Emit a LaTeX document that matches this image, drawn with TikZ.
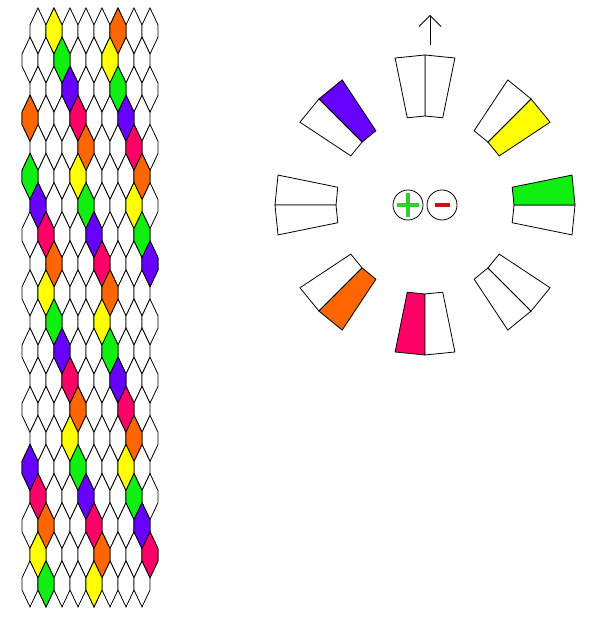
\documentclass[tikz,border=0pt]{standalone}
\usetikzlibrary{arrows.meta}

\definecolor{kyellow}{HTML}{FFFF00}
\definecolor{kgreen}{HTML}{11EE11}
\definecolor{kpurple}{HTML}{6600FF}
\definecolor{kpink}{HTML}{FF0066}
\definecolor{korange}{HTML}{FF6600}
\definecolor{plusgreen}{HTML}{33CC33}
\definecolor{minusred}{HTML}{CC1111}

% one knot of the pattern: row, column, colour
\newcommand{\knotcell}[3]{%
  \pgfmathsetmacro{\kx}{38+16*#2-8*mod(#1,2)}%
  \pgfmathsetmacro{\ky}{589-29.1*#1}%
  \filldraw[fill=#3] (\kx,\ky+23) -- (\kx+8,\ky+6.1) -- (\kx+8,\ky-6.1) -- (\kx,\ky-23)
    -- (\kx-8,\ky-6.1) -- (\kx-8,\ky+6.1) -- cycle;}

% one half of a slot on the wheel: from angle, to angle, colour
\newcommand{\slothalf}[3]{%
  \filldraw[fill=#3] (#1:89) -- (#1:150) -- (#2:150) -- (#2:89) -- cycle;}

\begin{document}
\begin{tikzpicture}[x=1pt,y=1pt,line width=0.8pt]
      \useasboundingbox[fill=white] (0,0) rectangle (595,620);
      % \draw[very thin, gray, step=10] (0,0) grid (595,620);
      \foreach \r in {0,...,19}
        \foreach \c in {0,...,7}
          \knotcell{\r}{\c}{white};
      \foreach \r/\c/\col in {0/1/kyellow, 0/5/korange, 1/2/kgreen, 1/5/kyellow,
          2/2/kpurple, 2/5/kgreen, 3/0/korange, 3/3/kpink, 3/6/kpurple,
          4/3/korange, 4/6/kpink, 5/0/kgreen, 5/3/kyellow, 5/7/korange,
          6/0/kpurple, 6/3/kgreen, 6/6/kyellow, 7/1/kpink, 7/4/kpurple, 7/7/kgreen,
          8/1/korange, 8/4/kpink, 8/7/kpurple, 9/1/kyellow, 9/5/korange,
          10/1/kgreen, 10/4/kyellow, 11/2/kpurple, 11/5/kgreen,
          12/2/kpink, 12/5/kpurple, 13/3/korange, 13/6/kpink,
          14/2/kyellow, 14/6/korange, 15/0/kpurple, 15/3/kgreen, 15/6/kyellow,
          16/0/kpink, 16/3/kpurple, 16/6/kgreen, 17/1/korange, 17/4/kpink, 17/7/kpurple,
          18/0/kyellow, 18/4/korange, 18/7/kpink, 19/1/kgreen, 19/4/kyellow}
        \knotcell{\r}{\c}{\col};

      \begin{scope}[shift={(425,415)}]
        \foreach \s/\ca/\cb in {90/white/white, 45/kyellow/white, 0/white/kgreen,
            -45/white/white, -90/kpink/white, -135/white/korange,
            180/white/white, 135/kpurple/white} {
          \slothalf{\s-11.5}{\s}{\ca}
          \slothalf{\s}{\s+11.5}{\cb}
        }
      \end{scope}

      \node[circle, draw, minimum size=30pt, inner sep=0pt] (plus) at (408,415) {};
      \node[circle, draw, minimum size=30pt, inner sep=0pt] (minus) at (442,415) {};
      \draw[plusgreen, line width=4pt] (plus.center) ++(-11,0) -- ++(22,0);
      \draw[plusgreen, line width=4pt] (plus.center) ++(0,-12) -- ++(0,24);
      \draw[minusred, line width=4pt] (minus.center) ++(-7.5,0) -- ++(15,0);

      \coordinate (up) at (430,575);
      \draw[-{Straight Barb[length=11pt, width=22pt]}] (up) -- ++(0,30);
\end{tikzpicture}
\end{document}
